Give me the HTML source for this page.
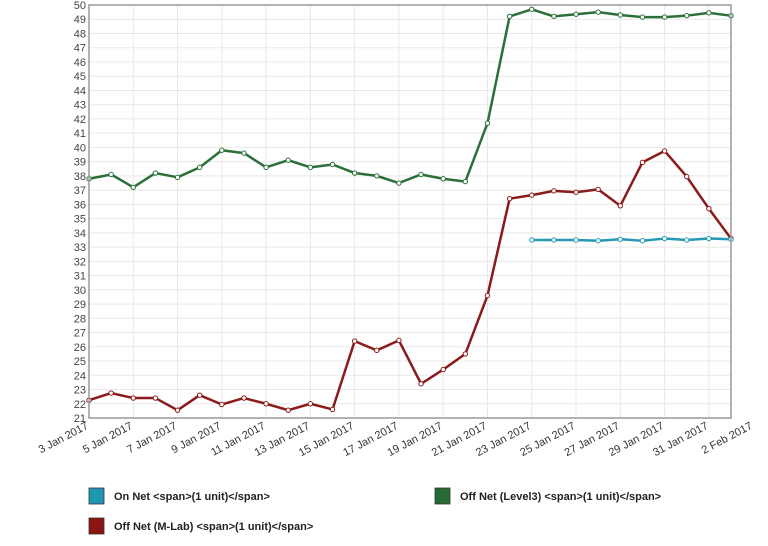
<!DOCTYPE html>
<html><head><meta charset="utf-8"><style>
html,body{margin:0;padding:0;background:#fff;}
svg{display:block;font-family:"Liberation Sans",sans-serif;}
</style></head><body>
<svg id="chart" width="768" height="546">
<g id="grid"></g>
<g id="yaxis"></g>
<g id="xaxis"></g>
<g id="series"></g>
<rect x="89" y="5" width="642" height="413" fill="none" stroke="#999" stroke-width="1.5"/>
<g>
<g><rect x="89" y="488" width="15" height="16" fill="#1f97b3" stroke="#333" stroke-width="0.8"/><text x="114" y="500" font-size="11" font-weight="bold" fill="#222">On Net &lt;span&gt;(1 unit)&lt;/span&gt;</text></g>
<g><rect x="435" y="488" width="15" height="16" fill="#246b35" stroke="#333" stroke-width="0.8"/><text x="460" y="500" font-size="11" font-weight="bold" fill="#222">Off Net (Level3) &lt;span&gt;(1 unit)&lt;/span&gt;</text></g>
<g><rect x="89" y="518" width="15" height="16" fill="#8b1414" stroke="#333" stroke-width="0.8"/><text x="114" y="530" font-size="11" font-weight="bold" fill="#222">Off Net (M-Lab) &lt;span&gt;(1 unit)&lt;/span&gt;</text></g>
</g>
</svg>
<script>
const xTickLabels = ["3 Jan 2017","5 Jan 2017","7 Jan 2017","9 Jan 2017","11 Jan 2017","13 Jan 2017","15 Jan 2017","17 Jan 2017","19 Jan 2017","21 Jan 2017","23 Jan 2017","25 Jan 2017","27 Jan 2017","29 Jan 2017","31 Jan 2017","2 Feb 2017"];
const yTicks = [21,22,23,24,25,26,27,28,29,30,31,32,33,34,35,36,37,38,39,40,41,42,43,44,45,46,47,48,49,50];
const offNetLevel3 = [37.8,38.1,37.2,38.2,37.9,38.6,39.8,39.6,38.6,39.1,38.6,38.8,38.2,38.0,37.5,38.1,37.8,37.6,41.7,49.2,49.7,49.2,49.35,49.5,49.3,49.15,49.15,49.25,49.45,49.25];
const offNetMLab = [22.25,22.75,22.4,22.4,21.55,22.6,21.95,22.4,22.0,21.55,22.0,21.6,26.4,25.75,26.45,23.4,24.4,25.5,29.6,36.4,36.65,36.95,36.85,37.05,35.9,38.95,39.75,37.95,35.7,33.6];
const onNet = [null,null,null,null,null,null,null,null,null,null,null,null,null,null,null,null,null,null,null,null,33.5,33.5,33.5,33.45,33.55,33.45,33.6,33.5,33.6,33.55];

const NS="http://www.w3.org/2000/svg";
const L=89,R=731,T=5,B=418,yMin=21,yMax=50;
const y=v=>B-(v-yMin)/(yMax-yMin)*(B-T);
const dayStep=(R-L)/(offNetLevel3.length-1);
const xi=i=>L+i*dayStep;
const xt=i=>L+i*2*dayStep;
function mk(tag,attrs,parent){const e=document.createElementNS(NS,tag);for(const k in attrs)e.setAttribute(k,attrs[k]);parent.appendChild(e);return e;}
const grid=document.getElementById('grid'),ya=document.getElementById('yaxis'),xa=document.getElementById('xaxis'),sg=document.getElementById('series');
yTicks.forEach(v=>{
  const ln=mk('line',{x1:L,x2:R,y1:y(v),y2:y(v),stroke:'#e8e8e8','stroke-width':1},grid);
  
  
  const t=mk('text',{x:L-3,y:y(v)+4,'text-anchor':'end','font-size':11,fill:'#444'},ya);
  t.textContent=v;
  
  
});
xTickLabels.forEach((s,i)=>{
  const x=xt(i);
  if(x<=R){
    const ln=mk('line',{x1:x,x2:x,y1:T,y2:B,stroke:'#e8e8e8','stroke-width':1},grid);
    
    
  }
  const t=mk('text',{x:x,y:B+10,'text-anchor':'end','font-size':11,fill:'#333',transform:`rotate(-28 ${x} ${B+10})`},xa);
  t.textContent=s;
  
  
});
function drawSeries(arr,color,name){
  const g=mk('g',{},sg);
  
  
  let d='',pen=false;
  arr.forEach((v,i)=>{if(v==null){pen=false;return;}d+=(pen?'L':'M')+xi(i)+' '+y(v)+' ';pen=true;});
  const p=mk('path',{d:d,fill:'none',stroke:color,'stroke-width':2.5,'stroke-linejoin':'round'},g);
  
  
  arr.forEach((v,i)=>{if(v==null)return;
    const c=mk('circle',{cx:xi(i),cy:y(v),r:2.2,fill:'#fff',stroke:color,'stroke-width':1},g);
    
    
  });
}
drawSeries(offNetLevel3,'#2a7038','off-net-level3-series');
drawSeries(offNetMLab,'#8b1a1a','off-net-mlab-series');
drawSeries(onNet,'#2499b5','on-net-series');
</script>
</body></html>
